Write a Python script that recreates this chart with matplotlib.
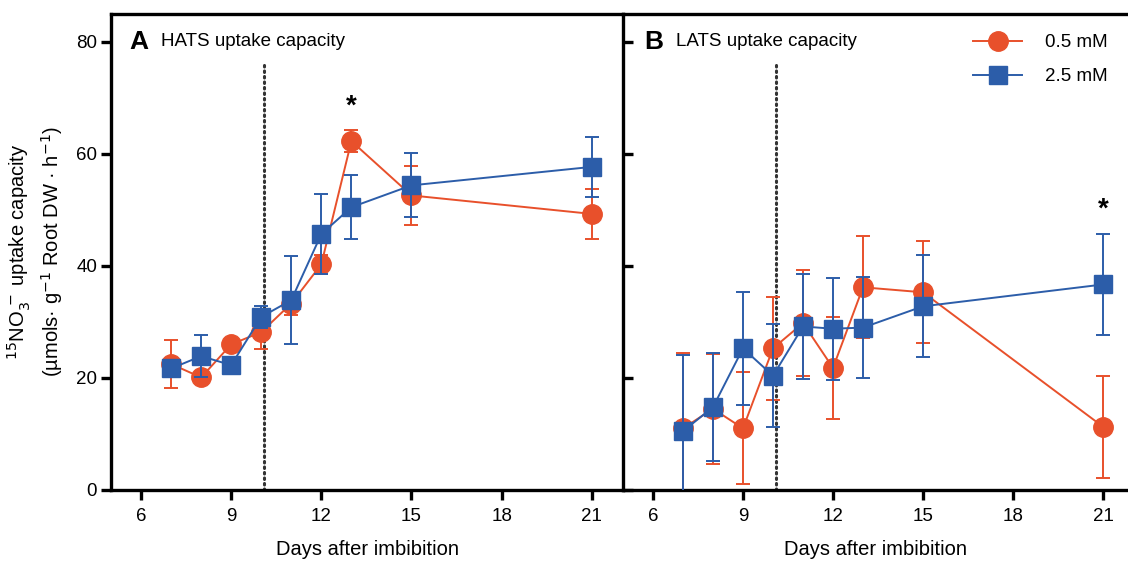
import matplotlib
matplotlib.use("Agg")
import matplotlib.pyplot as plt
from matplotlib.lines import Line2D

plt.rcParams['font.family'] = ['Liberation Sans', 'DejaVu Sans']

RED = "#E8502B"
BLUE = "#2C5DA9"

days = [7, 8, 9, 10, 11, 12, 13, 15, 21]

# Panel A: HATS
hats_05 = [22.5, 20.1, 26.0, 28.2, 33.3, 40.3, 62.3, 52.6, 49.3]
hats_05_err = [4.3, 0.5, 0.5, 3.0, 2.0, 1.7, 1.9, 5.3, 4.4]
hats_25 = [21.7, 23.9, 22.3, 30.9, 33.9, 45.7, 50.5, 54.4, 57.7]
hats_25_err = [0.5, 3.7, 0.5, 2.0, 7.9, 7.2, 5.7, 5.7, 5.3]

# Panel B: LATS
lats_05 = [11.0, 14.5, 11.0, 25.3, 29.8, 21.8, 36.2, 35.3, 11.3]
lats_05_err = [13.4, 9.8, 10.0, 9.2, 9.4, 9.1, 9.1, 9.1, 9.1]
lats_25 = [10.5, 14.8, 25.3, 20.4, 29.2, 28.8, 29.0, 32.8, 36.7]
lats_25_err = [13.6, 9.6, 10.1, 9.2, 9.4, 9.1, 9.0, 9.1, 9.1]

xticks = [6, 9, 12, 15, 18, 21]
yticks = [0, 20, 40, 60, 80]
labels = ["0.5 mM", "2.5 mM"]

fig = plt.figure(figsize=(11.28, 5.61), dpi=100)
W, H = 1128, 561
axA = fig.add_axes([111 / W, 1 - 490 / H, (623 - 111) / W, (490 - 14) / H])
axB = fig.add_axes([623 / W, 1 - 490 / H, (1128 - 623) / W, (490 - 14) / H])
axB.patch.set_visible(False)

lw_spine = 2.4


def draw(ax, y05, e05, y25, e25):
    ax.errorbar(days, y05, yerr=e05, color=RED, marker='o', markersize=14,
                lw=1.4, elinewidth=1.4, capsize=5, capthick=1.4, zorder=3,
                clip_on=True)
    ax.errorbar(days, y25, yerr=e25, color=BLUE, marker='s', markersize=12.5,
                lw=1.4, elinewidth=1.4, capsize=5, capthick=1.4, zorder=4,
                clip_on=True)
    ax.plot([10.1, 10.1], [0, 76.6], color="#333333", lw=2.2,
            linestyle=(0, (0.5, 1.3)), zorder=2, dash_capstyle='round')
    ax.set_ylim(0, 85)
    ax.set_xticks(xticks)
    ax.set_yticks(yticks)
    for s in ax.spines.values():
        s.set_linewidth(lw_spine)
    ax.tick_params(axis='x', direction='out', length=7, width=lw_spine,
                   labelsize=13.5, pad=6)
    ax.set_xlabel("Days after imbibition", fontsize=14.5, labelpad=11)


draw(axA, hats_05, hats_05_err, hats_25, hats_25_err)
draw(axB, lats_05, lats_05_err, lats_25, lats_25_err)

axA.set_xlim(5, 22.04)
axB.set_xlim(5, 5 + (1128 - 623) / 30.0)

axA.tick_params(axis='y', direction='out', length=7, width=lw_spine,
                labelsize=13.5, pad=3)
axA.set_ylabel("$^{15}$NO$_3^{\\,-}$ uptake capacity\n"
               "(µmols· g$^{-1}$ Root DW · h$^{-1}$)", fontsize=14.5,
               labelpad=8, linespacing=1.3)
axB.tick_params(axis='y', direction='in', length=7, width=lw_spine,
                labelleft=False)
axB.spines['left'].set_visible(False)
axB.spines['right'].set_visible(False)

axA.text(5.6, 80, "A", fontsize=19, fontweight='bold', va='center', ha='left')
axA.text(6.65, 80, "HATS uptake capacity", fontsize=13.5, va='center', ha='left')
axB.text(5.7, 80, "B", fontsize=19, fontweight='bold', va='center', ha='left')
axB.text(6.75, 80, "LATS uptake capacity", fontsize=13.5, va='center', ha='left')

axA.text(13, 68.5, "*", fontsize=20, fontweight='bold', ha='center', va='center')
axB.text(21, 50.0, "*", fontsize=20, fontweight='bold', ha='center', va='center')

handles = [Line2D([0], [0], color=RED, marker='o', markersize=14, lw=1.4),
           Line2D([0], [0], color=BLUE, marker='s', markersize=12.5, lw=1.4)]
axB.legend(handles, labels, loc='upper right', frameon=False, fontsize=13.5,
           handlelength=2.6, borderaxespad=0.3, labelspacing=0.9,
           handletextpad=1.2, bbox_to_anchor=(0.985, 0.985))

fig.savefig("out.png", dpi=100)
